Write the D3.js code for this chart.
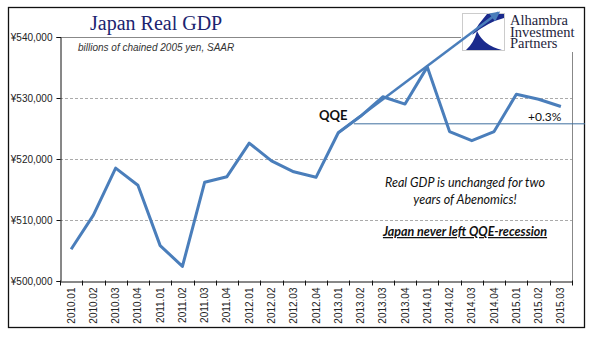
<!DOCTYPE html>
<html>
<head>
<meta charset="utf-8">
<script src="https://cdn.jsdelivr.net/npm/d3@7/dist/d3.min.js"></script>
<style>
  body { margin: 0; background: #fff; }
  svg { display: block; }
</style>
</head>
<body>
<div id="chart"></div>
<script>
// quarterly real GDP, billions of chained 2005 yen (SAAR)
var quarters = ["2010.01","2010.02","2010.03","2010.04","2011.01","2011.02","2011.03","2011.04",
  "2012.01","2012.02","2012.03","2012.04","2013.01","2013.02","2013.03","2013.04",
  "2014.01","2014.02","2014.03","2014.04","2015.01","2015.02","2015.03"];
var gdp = [505200, 510800, 518500, 515700, 505800, 502400, 516200, 517100,
  522600, 519700, 517900, 517000, 524300, 527000, 530200, 529000,
  535100, 524500, 523000, 524500, 530600, 529800, 528600];
var yTicks = [500000, 510000, 520000, 530000, 540000];

// pre-QQE trend arrow (quarter index, value) and the QQE reference level
var trendFrom = [12, 524300];
var trendTo = [19.2, 544000];
var qqeLevel = 525850;
var qqeStart = 12.7;

var w = 600, h = 341;
var plotL = 60, plotR = 572, plotT = 37, plotB = 281;
var blue = "#4a7ebb";

var svg = d3.select("#chart").append("svg")
  .attr("width", w)
  .attr("height", h);

var x = d3.scaleBand().domain(quarters).range([plotL, plotR]).padding(0);
var xi = d3.scaleLinear().domain([0, quarters.length - 1])
  .range([x(quarters[0]) + x.bandwidth() / 2, x(quarters[quarters.length - 1]) + x.bandwidth() / 2]);
var y = d3.scaleLinear().domain([500000, 540000]).range([plotB, plotT]);

// outer frame
svg.append("rect")
  .attr("x", 8.5).attr("y", 7.5)
  .attr("width", 576).attr("height", 320)
  .attr("fill", "none").attr("stroke", "#111").attr("stroke-width", 1.3);

// dashed gridlines
svg.append("g").selectAll("line")
  .data(yTicks.filter(function(d) { return d > 500000 && d < 540000; }))
  .enter().append("line")
  .attr("x1", plotL).attr("x2", plotR)
  .attr("y1", function(d) { return y(d) + 0.5; })
  .attr("y2", function(d) { return y(d) + 0.5; })
  .attr("stroke", "#aaa").attr("stroke-dasharray", "3,2");

// plot area top and right edges
svg.append("path")
  .attr("d", "M" + plotL + "," + (plotT + 0.5) + "H" + (plotR + 0.5) + "V" + plotB)
  .attr("fill", "none").attr("stroke", "#888");

// y axis
var yAxis = svg.append("g")
  .attr("transform", "translate(" + (plotL + 0.5) + ",0)")
  .call(d3.axisLeft(y).tickValues(yTicks).tickSize(4).tickPadding(4)
    .tickFormat(function(d) { return "\u00a5" + d3.format(",")(d); }));
yAxis.select(".domain").attr("stroke", "#111");
yAxis.selectAll(".tick line").attr("stroke", "#111");
yAxis.selectAll("text")
  .attr("font-family", "Liberation Sans, Arial, sans-serif")
  .attr("font-size", 10).attr("fill", "#222");

// x axis with ticks between quarters
var xAxis = svg.append("g")
  .attr("transform", "translate(0," + (plotB + 0.5) + ")")
  .call(d3.axisBottom(x).tickSize(0).tickPadding(6));
xAxis.select(".domain").attr("stroke", "#111");
xAxis.selectAll("text")
  .attr("font-family", "Liberation Sans, Arial, sans-serif")
  .attr("font-size", 10).attr("fill", "#222")
  .attr("transform", "rotate(-90)")
  .attr("text-anchor", "end")
  .attr("x", -6).attr("y", 0).attr("dy", "0.35em");
xAxis.selectAll(".sep")
  .data(quarters.map(function(q) { return x(q); }).concat([plotR]))
  .enter().append("line")
  .attr("class", "sep")
  .attr("x1", function(d) { return Math.round(d) + 0.5; })
  .attr("x2", function(d) { return Math.round(d) + 0.5; })
  .attr("y1", -1).attr("y2", 4)
  .attr("stroke", "#111");

// titles
svg.append("text")
  .attr("x", 90).attr("y", 30)
  .attr("font-family", "Liberation Serif, Times New Roman, serif")
  .attr("font-size", 20).attr("fill", "#1c2470")
  .text("Japan Real GDP");
svg.append("text")
  .attr("x", 78).attr("y", 51)
  .attr("font-family", "Liberation Sans, Arial, sans-serif")
  .attr("font-style", "italic")
  .attr("font-size", 10).attr("fill", "#333")
  .text("billions of chained 2005 yen, SAAR");

// logo block
var logo = svg.append("g");
logo.append("rect")
  .attr("x", 461).attr("y", 12).attr("width", 120).attr("height", 40)
  .attr("fill", "#fff");
logo.append("rect")
  .attr("x", 462.5).attr("y", 13.5).attr("width", 42).attr("height", 37)
  .attr("fill", "#fff").attr("stroke", "#ccc");
logo.append("path")
  .attr("d", "M487,14 L504,14 L504,18 Q488,22 472,35 Q478,24 487,14 Z")
  .attr("fill", "#1a2a8c");
logo.append("path")
  .attr("d", "M477,31 Q474,43 466,50 L502,50 Q484,46 477,31 Z")
  .attr("fill", "#1a2a8c");
logo.selectAll(".brand")
  .data(["Alhambra", "Investment", "Partners"])
  .enter().append("text")
  .attr("class", "brand")
  .attr("x", 510)
  .attr("y", function(d, i) { return 25 + i * 11.5; })
  .attr("font-family", "Liberation Serif, Times New Roman, serif")
  .attr("font-size", 14.5).attr("fill", "#1e1e3c")
  .text(function(d) { return d; });

// QQE reference level
svg.append("line")
  .attr("x1", xi(qqeStart)).attr("x2", 585)
  .attr("y1", y(qqeLevel) + 0.5).attr("y2", y(qqeLevel) + 0.5)
  .attr("stroke", "#3f6f9f").attr("stroke-width", 1);

// GDP line
var line = d3.line()
  .x(function(d, i) { return xi(i); })
  .y(function(d) { return y(d); });
svg.append("path")
  .datum(gdp)
  .attr("d", line)
  .attr("fill", "none")
  .attr("stroke", blue)
  .attr("stroke-width", 3)
  .attr("stroke-linejoin", "round");

// trend arrow
svg.append("defs").append("marker")
  .attr("id", "head")
  .attr("viewBox", "0 0 10 10")
  .attr("refX", 8).attr("refY", 5)
  .attr("markerWidth", 6).attr("markerHeight", 4)
  .attr("orient", "auto")
  .append("path").attr("d", "M0,0 L10,5 L0,10 Z").attr("fill", blue);
svg.append("line")
  .attr("x1", xi(trendFrom[0])).attr("y1", y(trendFrom[1]))
  .attr("x2", xi(trendTo[0])).attr("y2", y(trendTo[1]))
  .attr("stroke", blue).attr("stroke-width", 2.5)
  .attr("marker-end", "url(#head)");

// annotations
svg.append("text")
  .attr("x", 319).attr("y", 120)
  .attr("font-family", "Lato, Liberation Sans, sans-serif")
  .attr("font-weight", "bold").attr("font-size", 13).attr("fill", "#111")
  .text("QQE");
svg.append("text")
  .attr("x", 528).attr("y", 121)
  .attr("font-family", "Lato, Liberation Sans, sans-serif")
  .attr("font-size", 12).attr("fill", "#111")
  .text("+0.3%");

var note = svg.append("text")
  .attr("font-family", "Lato, Liberation Sans, sans-serif")
  .attr("font-style", "italic").attr("font-size", 12.5)
  .attr("fill", "#111").attr("text-anchor", "middle");
note.append("tspan").attr("x", 465).attr("y", 187).text("Real GDP is unchanged for two");
note.append("tspan").attr("x", 465).attr("y", 203.5).text("years of Abenomics!");

svg.append("text")
  .attr("x", 465).attr("y", 236)
  .attr("text-anchor", "middle")
  .attr("font-family", "Lato, Liberation Sans, sans-serif")
  .attr("font-style", "italic").attr("font-weight", "bold")
  .attr("font-size", 12.5).attr("fill", "#111")
  .attr("text-decoration", "underline")
  .text("Japan never left QQE-recession");
</script>
</body>
</html>
